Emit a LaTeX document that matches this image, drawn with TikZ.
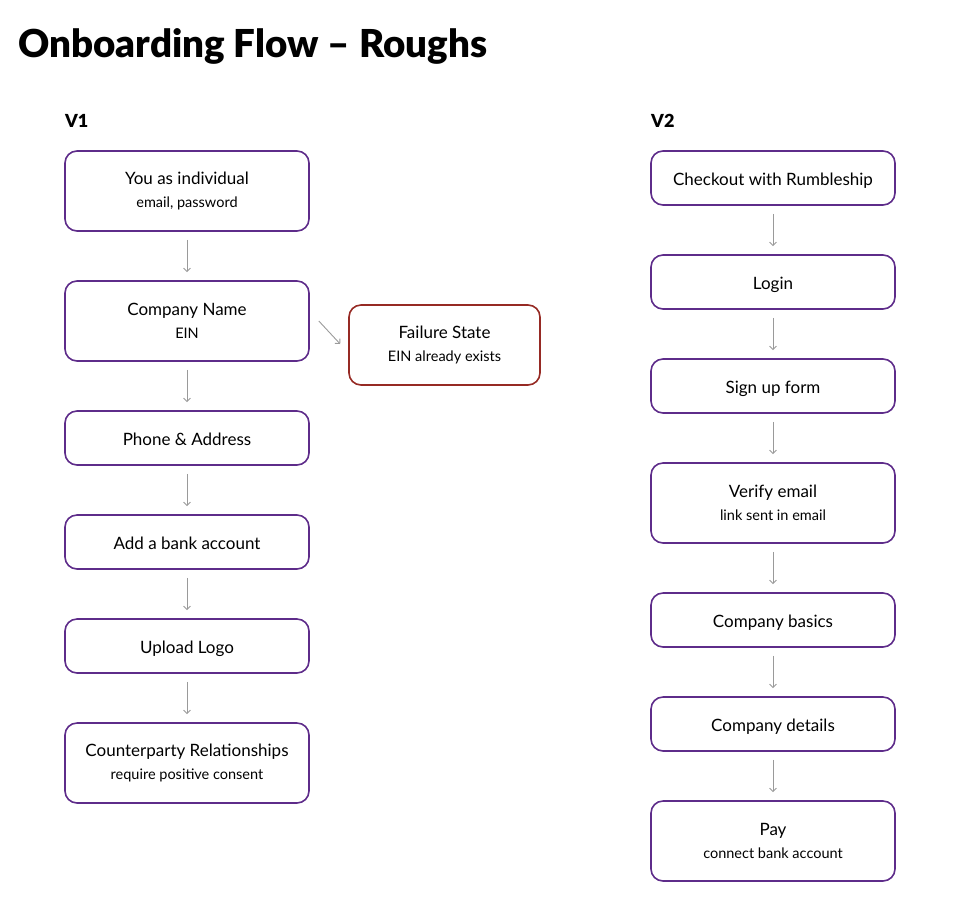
\documentclass[tikz,border=0pt]{standalone}
\usepackage{fontspec}
\setmainfont{Lato}
\newfontfamily\titlefont{Lato Black}
\usetikzlibrary{arrows.meta,calc}
\definecolor{boxpurple}{HTML}{5E2C8A}
\definecolor{boxred}{HTML}{962A24}
\definecolor{arrgray}{HTML}{9A9A9A}
\tikzset{
  stepbox/.style={draw=boxpurple,line width=1.6pt,rounded corners=12pt,minimum width=244pt,inner sep=0pt,fill=white,align=center,font=\fontsize{17}{20}\selectfont},
  tall/.style={minimum height=80pt},
  short/.style={minimum height=54pt,text height=15pt,text depth=0pt},
  failbox/.style={stepbox,draw=boxred,minimum width=191pt},
  flow/.style={draw=arrgray,line width=0.9pt,-{Straight Barb[length=3.5pt,width=7pt]}},
}
\newcommand{\subl}[1]{\\[3.5pt]{\fontsize{14.5}{16}\selectfont #1}}
\begin{document}
\begin{tikzpicture}[x=1pt,y=-1pt]
\useasboundingbox (0,0) rectangle (960,914);
\node[anchor=base west,inner sep=0pt,font=\titlefont\fontsize{38.5}{42}\selectfont] (title) at (18,57) {Onboarding Flow – Roughs};
\node[anchor=base west,inner sep=0pt,font=\titlefont\fontsize{18}{20}\selectfont] (v1) at (65,127) {V1};
\node[anchor=base west,inner sep=0pt,font=\titlefont\fontsize{18}{20}\selectfont] (v2) at (651,127) {V2};
% V1
\node[stepbox,tall] (a1) at (187,191) {You as individual\subl{email, password}};
\node[stepbox,tall] (a2) at (187,321) {Company Name\subl{EIN}};
\node[stepbox,short] (a3) at (187,438) {Phone \& Address};
\node[stepbox,short] (a4) at (187,542) {Add a bank account};
\node[stepbox,short] (a5) at (187,646) {Upload Logo};
\node[stepbox,tall] (a6) at (187,763) {Counterparty Relationships\subl{require positive consent}};
\node[failbox,tall] (fail) at (444.5,345) {Failure State\subl{EIN already exists}};
% V2
\node[stepbox,short] (b1) at (773,178) {Checkout with Rumbleship};
\node[stepbox,short] (b2) at (773,282) {Login};
\node[stepbox,short] (b3) at (773,386) {Sign up form};
\node[stepbox,tall] (b4) at (773,503) {Verify email\subl{link sent in email}};
\node[stepbox,short] (b5) at (773,620) {Company basics};
\node[stepbox,short] (b6) at (773,724) {Company details};
\node[stepbox,tall] (b7) at (773,841) {Pay\subl{connect bank account}};
% arrows
\foreach \p/\q in {a1/a2,a2/a3,a3/a4,a4/a5,a5/a6,b1/b2,b2/b3,b3/b4,b4/b5,b5/b6,b6/b7}{
  \draw[flow] ($(\p.south)+(0,8)$) -- ($(\q.north)+(0,-8)$);
}
\draw[flow] ($(a2.east)+(9,0)$) -- ($(fail.west)+(-8,-1)$);
\end{tikzpicture}
\end{document}
